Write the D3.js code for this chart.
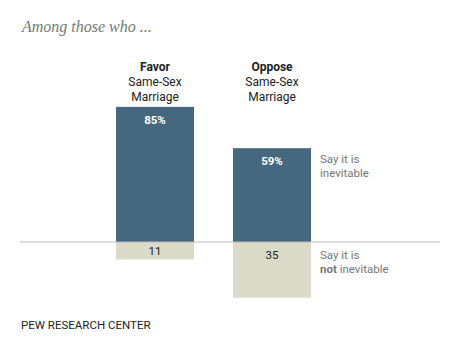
<!DOCTYPE html>
<html><head><meta charset="utf-8">
<script src="https://cdn.jsdelivr.net/npm/d3@7"></script>
<style>body{margin:0;background:#fff}svg{display:block}</style>
</head><body>
<script>
const categories = ["Favor", "Oppose"];
const inevitable = [85, 59];
const notInevitable = [11, 35];
const seriesLabels = [["Say it is", "inevitable"], ["Say it is", "not inevitable"]];
const title = "Among those who ...";
const source = "PEW RESEARCH CENTER";

const W = 460, H = 356;
const svg = d3.select("body").append("svg").attr("width", W).attr("height", H);
const baseY = 242;
const y = d3.scaleLinear().domain([-100, 100]).range([baseY + 159, baseY - 159]);
const x = d3.scaleBand().domain(categories).range([116, 311]).paddingInner(1 / 3).paddingOuter(0);

const blue = "#46687F", beige = "#DCDAC8";
const sans = "Roboto, 'Liberation Sans', sans-serif";

svg.append("text").attr("x", 22).attr("y", 32).text(title)
  .attr("font-family", "'Liberation Serif', serif").attr("font-style", "italic")
  .attr("font-size", 16).attr("fill", "#777");

// bars
svg.selectAll(".pos").data(inevitable).join("rect")
  .attr("x", (d, i) => x(categories[i])).attr("width", x.bandwidth())
  .attr("y", d => y(d)).attr("height", d => y(0) - y(d)).attr("fill", blue);
svg.selectAll(".neg").data(notInevitable).join("rect")
  .attr("x", (d, i) => x(categories[i])).attr("width", x.bandwidth())
  .attr("y", y(0)).attr("height", d => y(-d) - y(0)).attr("fill", beige);

// baseline
svg.append("line").attr("x1", 20).attr("x2", 440).attr("y1", y(0)).attr("y2", y(0))
  .attr("stroke", "#bbb").attr("stroke-width", 1);

// value labels
svg.selectAll(".pl").data(inevitable).join("text")
  .attr("x", (d, i) => x(categories[i]) + x.bandwidth() / 2).attr("y", d => y(d) + 17)
  .attr("text-anchor", "middle").attr("font-family", sans).attr("font-weight", "bold")
  .attr("font-size", 11.5).attr("fill", "#fff").text(d => d + "%");
svg.selectAll(".nl").data(notInevitable).join("text")
  .attr("x", (d, i) => x(categories[i]) + x.bandwidth() / 2).attr("y", (d, i) => y(0) + (i === 0 ? 13 : 17))
  .attr("text-anchor", "middle").attr("font-family", sans)
  .attr("font-size", 11.5).attr("fill", "#222").text(d => d);

// category headers
categories.forEach((c, i) => {
  const cx = x(c) + x.bandwidth() / 2;
  const t = svg.append("text").attr("text-anchor", "middle").attr("font-family", sans)
    .attr("font-size", 12).attr("fill", "#222");
  t.append("tspan").attr("x", cx).attr("y", 71).attr("font-weight", "bold").text(c);
  t.append("tspan").attr("x", cx).attr("y", 86).text("Same-Sex");
  t.append("tspan").attr("x", cx).attr("y", 101).text("Marriage");
});

// series labels
const lx = x(categories[1]) + x.bandwidth() + 9;
const l1 = svg.append("text").attr("font-family", sans).attr("font-size", 11.5).attr("fill", "#777");
l1.append("tspan").attr("x", lx).attr("y", y(inevitable[1]) + 15).text(seriesLabels[0][0]);
l1.append("tspan").attr("x", lx).attr("y", y(inevitable[1]) + 29).text(seriesLabels[0][1]);
const l2 = svg.append("text").attr("font-family", sans).attr("font-size", 11.5).attr("fill", "#777");
l2.append("tspan").attr("x", lx).attr("y", y(0) + 17).text(seriesLabels[1][0]);
l2.append("tspan").attr("x", lx).attr("y", y(0) + 31).attr("font-weight", "bold").text("not");
l2.append("tspan").text(" inevitable");

svg.append("text").attr("x", 21).attr("y", 329).text(source)
  .attr("font-family", sans).attr("font-size", 11.5).attr("fill", "#222");
</script>
</body></html>
